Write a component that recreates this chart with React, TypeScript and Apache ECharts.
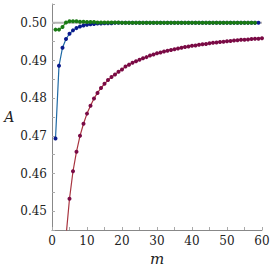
import React, { useEffect, useRef } from "react";
import * as echarts from "echarts";

const blueStart = 1;
const blueValues = [
  0.4693, 0.4886, 0.4934, 0.4957, 0.4971, 0.498, 0.4986, 0.499, 0.4993, 0.4995,
  0.4996, 0.4997, 0.4998, 0.4998, 0.4999, 0.4999, 0.4999, 0.5, 0.5, 0.5,
  0.5, 0.5, 0.5, 0.5, 0.5, 0.5, 0.5, 0.5, 0.5, 0.5,
  0.5, 0.5, 0.5, 0.5, 0.5, 0.5, 0.5, 0.5, 0.5, 0.5,
  0.5, 0.5, 0.5, 0.5, 0.5, 0.5, 0.5, 0.5, 0.5, 0.5,
  0.5, 0.5, 0.5, 0.5, 0.5, 0.5, 0.5, 0.5, 0.5,
];

const greenStart = 1;
const greenValues = [
  0.4982, 0.4982, 0.4989, 0.5001, 0.5004, 0.5004, 0.5004, 0.5003, 0.5003, 0.5002,
  0.5002, 0.5002, 0.5001, 0.5001, 0.5001, 0.5001, 0.5001, 0.5001, 0.5001, 0.5,
  0.5, 0.5, 0.5, 0.5, 0.5, 0.5, 0.5, 0.5, 0.5, 0.5,
  0.5, 0.5, 0.5, 0.5, 0.5, 0.5, 0.5, 0.5, 0.5, 0.5,
  0.5, 0.5, 0.5, 0.5, 0.5, 0.5, 0.5, 0.5, 0.5, 0.5,
  0.5, 0.5, 0.5, 0.5, 0.5, 0.5, 0.5, 0.5,
];

const redStart = 4;
const redValues = [
  0.4432, 0.4533, 0.4606, 0.4658, 0.47, 0.4732, 0.4759, 0.478, 0.4799, 0.4814,
  0.4827, 0.4838, 0.4848, 0.4856, 0.4863, 0.487, 0.4876, 0.4884, 0.4889, 0.4894,
  0.4898, 0.4902, 0.4906, 0.4909, 0.4913, 0.4916, 0.4919, 0.4921, 0.4924, 0.4926,
  0.4928, 0.493, 0.4932, 0.4934, 0.4936, 0.4937, 0.4939, 0.494, 0.4942, 0.4943,
  0.4944, 0.4946, 0.4947, 0.4948, 0.4949, 0.495, 0.4951, 0.4952, 0.4953, 0.4954,
  0.4955, 0.4955, 0.4956, 0.4957, 0.4958, 0.4958, 0.4959,
];

const referenceLevel = 0.5;
const xRange = [0, 60];
const yRange = [0.445, 0.505];

const toPairs = (start: number, vals: number[]) => vals.map((v, i) => [start + i, v]);

const FONT = "'DejaVu Serif'";

export default function App() {
  const ref = useRef<HTMLDivElement>(null);
  useEffect(() => {
    if (!ref.current) return;
    const chart = echarts.init(ref.current, null, { renderer: "svg" });
    const dot = (c: string, line: string, data: number[][], z: number) => ({
      type: "line",
      data,
      symbol: "circle",
      symbolSize: 4,
      showSymbol: true,
      itemStyle: { color: c },
      lineStyle: { color: line, width: 1.2 },
      z,
      silent: true,
    });
    chart.setOption({
      animation: false,
      textStyle: { fontFamily: FONT },
      grid: { left: 52, right: 11, top: 4, bottom: 43, containLabel: false },
      xAxis: {
        type: "value",
        min: xRange[0],
        max: xRange[1],
        interval: 5,
        name: "m",
        nameLocation: "middle",
        nameGap: 13,
        nameTextStyle: { fontFamily: FONT, fontStyle: "italic", fontSize: 15, color: "#222" },
        axisLine: { lineStyle: { color: "#888", width: 1 } },
        axisTick: { inside: true, length: 3, lineStyle: { color: "#aaa" } },
        axisLabel: {
          fontFamily: FONT,
          fontSize: 12,
          color: "#222",
          margin: 5,
          formatter: (v: number) => (Math.round(v) % 10 === 0 ? String(Math.round(v)) : ""),
        },
        splitLine: { show: false },
      },
      yAxis: {
        type: "value",
        min: yRange[0],
        max: yRange[1],
        interval: 0.005,
        name: "A",
        nameLocation: "middle",
        nameRotate: 0,
        nameGap: 35,
        nameTextStyle: { fontFamily: FONT, fontStyle: "italic", fontSize: 14, color: "#222" },
        axisLine: { show: true, lineStyle: { color: "#888", width: 1 } },
        axisTick: { show: true, inside: true, length: 3, lineStyle: { color: "#aaa" } },
        axisLabel: {
          fontFamily: FONT,
          fontSize: 12,
          color: "#222",
          margin: 5,
          formatter: (v: number) =>
            Math.round(v * 1000) % 10 === 0 ? v.toFixed(2) : "",
        },
        splitLine: { show: false },
      },
      series: [
        {
          type: "line",
          data: [
            [xRange[0], referenceLevel],
            [xRange[1], referenceLevel],
          ],
          symbol: "none",
          lineStyle: { color: "#b4b4b4", width: 2 },
          z: 1,
          silent: true,
        },
        dot("#7a0a45", "#a8343f", toPairs(redStart, redValues), 2),
        dot("#0a1a8c", "#1f6aa5", toPairs(blueStart, blueValues), 3),
        dot("#1a7a14", "#2f8f2a", toPairs(greenStart, greenValues), 4),
      ],
    });
    return () => chart.dispose();
  }, []);
  return (
    <div
      ref={ref}
      style={{ position: "fixed", left: 0, top: 0, width: 273, height: 273, background: "#fff" }}
    />
  );
}
